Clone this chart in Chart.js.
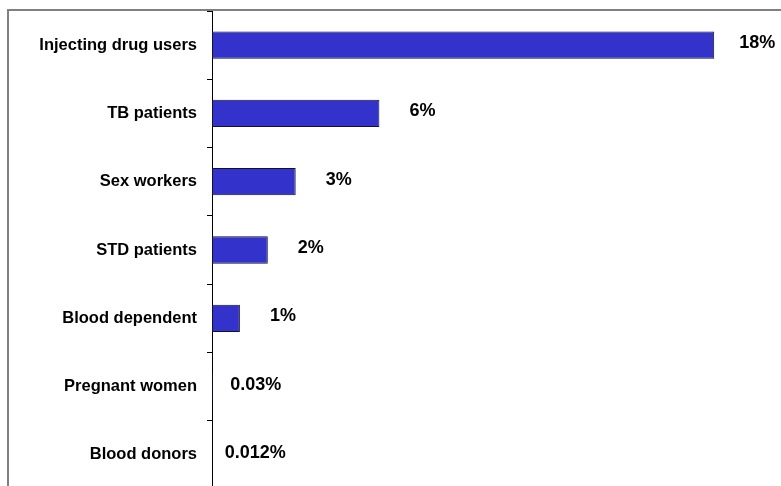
<!DOCTYPE html>
<html>
<head>
<meta charset="utf-8">
<script src="https://cdn.jsdelivr.net/npm/chart.js@4/dist/chart.umd.min.js"></script>
<style>
  html, body { margin: 0; padding: 0; background: #fff; overflow: hidden; }
  #frame { position: absolute; left: 7px; top: 9px; width: 800px; height: 500px;
           border-left: 2px solid #808080; border-top: 2px solid #808080; }
  #wrap { position: absolute; left: 0; top: 0; width: 781px; height: 492px; }
</style>
</head>
<body>
<div id="frame"></div>
<div id="wrap"><canvas id="grafiek"></canvas></div>
<script>
const groepen = ["Injecting drug users", "TB patients", "Sex workers", "STD patients",
    "Blood dependent", "Pregnant women", "Blood donors"];
const prevalentie = [18, 6, 3, 2, 1, 0.03, 0.012];
const labels = ["18%", "6%", "3%", "2%", "1%", "0.03%", "0.012%"];

const lettertype = "'Liberation Sans', Arial, sans-serif";

// waarde-labels naast de balken
const waardeLabels = {
    id: 'waardeLabels',
    afterDatasetsDraw(chart) {
        const ctx = chart.ctx;
        const meta = chart.getDatasetMeta(0);
        ctx.save();
        ctx.font = "bold 18px " + lettertype;
        ctx.fillStyle = "#000";
        ctx.textAlign = "center";
        ctx.textBaseline = "middle";
        meta.data.forEach((bar, i) => {
            ctx.fillText(labels[i], bar.x + 43, bar.y - 2);
        });
        ctx.restore();
    }
};

new Chart(document.getElementById('grafiek'), {
    type: 'bar',
    data: {
        labels: groepen,
        datasets: [{
            data: prevalentie,
            backgroundColor: '#3333cc',
            borderColor: '#111133',
            borderWidth: 1,
            borderSkipped: false,
            barPercentage: 0.4,
            categoryPercentage: 1
        }]
    },
    options: {
        indexAxis: 'y',
        responsive: true,
        maintainAspectRatio: false,
        animation: false,
        layout: { padding: { top: 11, right: 11, bottom: 3, left: 0 } },
        plugins: {
            legend: { display: false },
            tooltip: { enabled: false }
        },
        scales: {
            x: {
                display: false,
                min: 0,
                max: 20
            },
            y: {
                afterFit(scale) {
                    scale.width = 212;
                    scale.paddingTop = 0;
                    scale.paddingBottom = 0;
                },
                grid: {
                    drawOnChartArea: false,
                    drawTicks: true,
                    tickLength: 5,
                    color: '#000',
                    offset: true
                },
                border: { display: true, color: '#000', width: 1 },
                ticks: {
                    color: '#000',
                    padding: 10,
                    font: { family: lettertype, size: 16.5, weight: 'bold' }
                }
            }
        }
    },
    plugins: [waardeLabels]
});
</script>
</body>
</html>
